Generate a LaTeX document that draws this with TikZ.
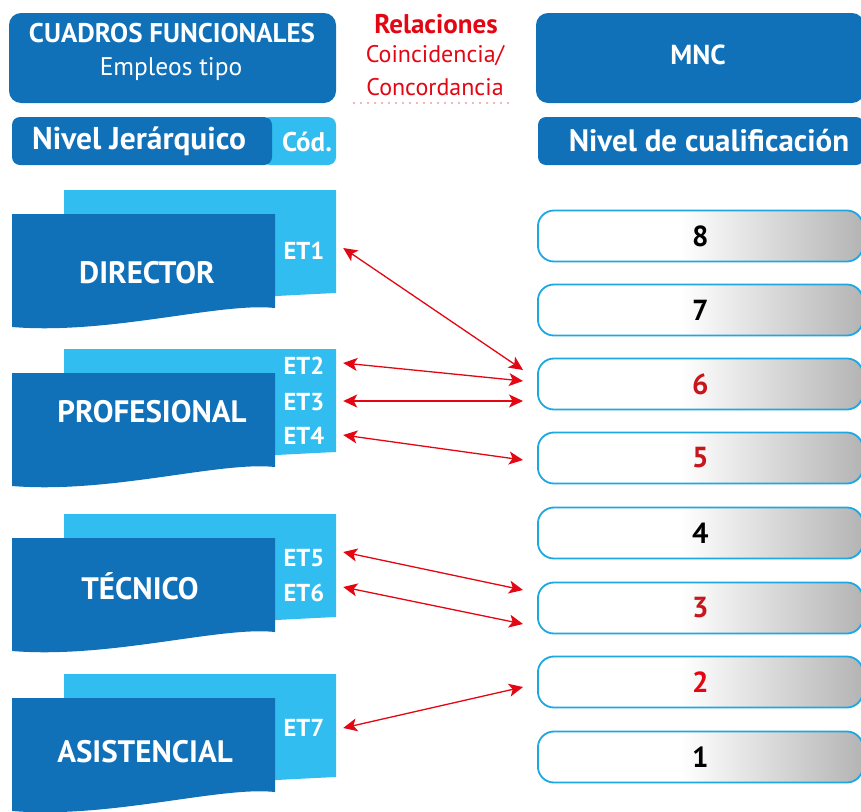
\documentclass[tikz,border=0pt]{standalone}
\usepackage{fontspec}
\setmainfont{PT Sans}
\usetikzlibrary{arrows.meta}
\definecolor{dblue}{HTML}{1070B8}
\definecolor{lblue}{HTML}{31BDEF}
\definecolor{cborder}{HTML}{1EA7E1}
\definecolor{rred}{HTML}{E30613}
\definecolor{nred}{HTML}{C8161D}
\definecolor{lgray}{HTML}{B4B4B4}
\pgfdeclarehorizontalshading{lvlshade}{100bp}{color(0bp)=(white); color(47bp)=(white); color(75bp)=(lgray); color(100bp)=(lgray)}
\newcommand{\fsz}[1]{\fontsize{#1}{#1}\selectfont}
\begin{document}
\begin{tikzpicture}[x=1pt,y=-1pt,
  hdrbox/.style={fill=dblue, draw=none, rounded corners=12pt, inner sep=0pt},
  wtxt/.style={text=white, inner sep=0pt},
  lvl/.style={draw=cborder, line width=1.8pt, rounded corners=16pt, shade, shading=lvlshade,
     minimum width=325pt, minimum height=51pt, anchor=west, inner sep=0pt, font=\bfseries\fsz{29}},
  etl/.style={text=white, font=\bfseries\fsz{24.5}, inner sep=0pt, minimum width=78pt, minimum height=16pt},
  grp/.style={text=white, font=\bfseries\fsz{31}, inner sep=0pt},
  arr/.style={{Stealth[length=14pt,width=13pt,inset=3.5pt]}-{Stealth[length=14pt,width=13pt,inset=3.5pt]}, draw=rred, line width=1.3pt}
]
\useasboundingbox (0,0) rectangle (861,811);

% ---------- headers ----------
\node[hdrbox, minimum width=327pt, minimum height=90pt] (hcf) at (172.5,58) {};
\node[wtxt, font=\bfseries\fsz{27}] (tcf) at (172,33) {CUADROS FUNCIONALES};
\node[wtxt, font=\fsz{25.5}] (tet) at (171,69) {Empleos tipo};

\fill[lblue, rounded corners=8pt] (262,117) rectangle (336,165);
\node[fill=dblue, rounded corners=8pt, minimum width=260pt, minimum height=48pt, inner sep=0pt] (hnj) at (142,141) {};
\node[wtxt, font=\bfseries\fsz{31.5}] (tnj) at (139,141) {Nivel Jerárquico};
\node[wtxt, font=\bfseries\fsz{27}] (tcod) at (307,142) {Cód.};

\node[text=rred, font=\bfseries\fsz{27}, inner sep=0pt] (trel) at (436,24) {Relaciones};
\node[text=rred, font=\fsz{24}, inner sep=0pt] (tcoi) at (435,56) {Coincidencia/};
\node[text=rred, font=\fsz{24}, inner sep=0pt] (tcon) at (435,87) {Concordancia};
\draw[rred!60, line width=1.6pt, line cap=round, dash pattern=on 0pt off 7pt] (354,103) -- (512,103);

\node[hdrbox, minimum width=328pt, minimum height=90pt] (hmnc) at (700,58) {};
\node[wtxt, font=\bfseries\fsz{27.5}] (tmnc) at (698,55) {MNC};
\node[fill=dblue, rounded corners=8pt, minimum width=326pt, minimum height=48pt, inner sep=0pt] (hnc) at (701,141) {};
\node[wtxt, font=\bfseries\fsz{31}] (tnc) at (709,141) {Nivel de cualificación};

% ---------- groups ----------
\foreach \T in {190,349,514,674}{
  \fill[lblue] (64,\T) -- (336,\T) -- (336,\T+103) .. controls (250,\T+107) and (150,\T+114) .. (64,\T+112) -- cycle;
  \fill[dblue] (12,\T+24) -- (275,\T+24) -- (275,\T+118) .. controls (220,\T+112) and (110,\T+145) .. (12,\T+137) -- cycle;
}
\node[grp] (gdir) at (147,273) {DIRECTOR};
\node[grp] (gpro) at (152,412) {PROFESIONAL};
\node[grp] (gtec) at (140,586) {TÉCNICO};
\node[grp] (gasi) at (145,752) {ASISTENCIAL};

\node[etl] (et1) at (304,251) {ET1};
\node[etl] (et2) at (304,366) {ET2};
\node[etl] (et3) at (304,402) {ET3};
\node[etl] (et4) at (304,436) {ET4};
\node[etl] (et5) at (304,558) {ET5};
\node[etl] (et6) at (304,593) {ET6};
\node[etl] (et7) at (304,728) {ET7};

% ---------- levels ----------
\node[lvl] (l8) at (537,236) {8};
\node[lvl] (l7) at (537,310) {7};
\node[lvl, text=nred] (l6) at (537,384) {6};
\node[lvl, text=nred] (l5) at (537,458) {5};
\node[lvl] (l4) at (537,533) {4};
\node[lvl, text=nred] (l3) at (537,608) {3};
\node[lvl, text=rred] (l2) at (537,682) {2};
\node[lvl] (l1) at (537,757) {1};

% ---------- arrows ----------
\draw[arr] ([yshift=3pt]et1.east) -- ([xshift=-14pt,yshift=14pt]l6.west);
\draw[arr] ([yshift=3pt]et2.east) -- ([xshift=-14pt,yshift=3pt]l6.west);
\draw[arr] ([yshift=1pt]et3.east) -- ([xshift=-14pt,yshift=-17pt]l6.west);
\draw[arr] ([yshift=1pt]et4.east) -- ([xshift=-14pt,yshift=-2pt]l5.west);
\draw[arr] ([yshift=6pt]et5.east) -- ([xshift=-14pt,yshift=18pt]l3.west);
\draw[arr] ([yshift=6pt]et6.east) -- ([xshift=-14pt,yshift=-16pt]l3.west);
\draw[arr] ([yshift=0pt]et7.east) -- ([xshift=-14pt,yshift=-5pt]l2.west);
\end{tikzpicture}
\end{document}
